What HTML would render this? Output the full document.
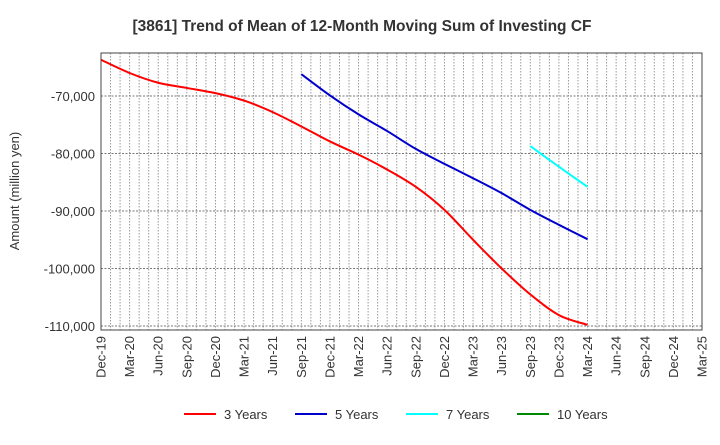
<!DOCTYPE html>
<html><head><meta charset="utf-8"><style>
body{margin:0;background:#fff;font-family:"Liberation Sans",Arial,sans-serif;}
svg text{font-family:"Liberation Sans",Arial,sans-serif;fill:#333;}
</style></head><body>
<svg id="chart" width="720" height="440" viewBox="0 0 720 440" xmlns="http://www.w3.org/2000/svg">
<text x="362" y="31" text-anchor="middle" font-size="15.5" font-weight="bold">[3861]  Trend of Mean of 12-Month Moving Sum of Investing CF</text>
<g id="grid"></g>
<g id="yticks"></g>
<g id="xticks"></g>
<g id="series"></g>
<rect x="101" y="53" width="601" height="277" fill="none" stroke="#444" stroke-width="1"/>
<text transform="translate(19,191) rotate(-90)" text-anchor="middle" font-size="13">Amount (million yen)</text>
<g>
<g><line x1="184" y1="414" x2="216" y2="414" stroke="#f00" stroke-width="2"/><text x="224" y="419" font-size="13">3 Years</text></g>
<g><line x1="295" y1="414" x2="327" y2="414" stroke="#00c" stroke-width="2"/><text x="335" y="419" font-size="13">5 Years</text></g>
<g><line x1="406" y1="414" x2="438" y2="414" stroke="#0ff" stroke-width="2"/><text x="446" y="419" font-size="13">7 Years</text></g>
<g><line x1="517" y1="414" x2="549" y2="414" stroke="#080" stroke-width="2"/><text x="557" y="419" font-size="13">10 Years</text></g>
</g>
</svg>
<script>
const xLabels=["Dec-19","Mar-20","Jun-20","Sep-20","Dec-20","Mar-21","Jun-21","Sep-21","Dec-21","Mar-22","Jun-22","Sep-22","Dec-22","Mar-23","Jun-23","Sep-23","Dec-23","Mar-24","Jun-24","Sep-24","Dec-24","Mar-25"];
const yTicks=[-70000,-80000,-90000,-100000,-110000];
const yTickLabels=["-70,000","-80,000","-90,000","-100,000","-110,000"];
const s3=[-63700,-66000,-67700,-68600,-69500,-70800,-72800,-75300,-77900,-80200,-82800,-85800,-89800,-95000,-100000,-104500,-108100,-109800];
const s5=[-66200,-69900,-73200,-76100,-79200,-81800,-84300,-86900,-89800,-92400,-94900];
const s5Start=7;
const s7=[-78700,-82300,-85800];
const s7Start=15;
const s10=[];
const s10Start=0;
const NS="http://www.w3.org/2000/svg";
const L=101,R=702,T=53,B=330;
function xq(i){return L+i*3*(R-L)/63;}
function xm(m){return L+m*(R-L)/63;}
function y(v){return 96+(-70000-v)/10000*57.5;}
function mk(tag,attrs,parent){const e=document.createElementNS(NS,tag);for(const k in attrs)e.setAttribute(k,attrs[k]);parent.appendChild(e);return e;}
const grid=document.getElementById('grid');
for(let m=1;m<63;m++){const l=mk('line',{x1:xm(m),x2:xm(m),y1:T,y2:B,stroke:'#999','stroke-width':1,'stroke-dasharray':'1.5,1.5'},grid);

}
const yt=document.getElementById('yticks');
yTicks.forEach((v,i)=>{const l=mk('line',{x1:L,x2:R,y1:y(v),y2:y(v),stroke:'#777','stroke-width':1,'stroke-dasharray':'2,1.5'},grid);


const t=mk('text',{x:L-6,y:y(v)+5,'text-anchor':'end','font-size':13},yt);t.textContent=yTickLabels[i];

});
const xt=document.getElementById('xticks');
xLabels.forEach((s,i)=>{const x=xq(i);const t=mk('text',{transform:`translate(${x+4.5},${B+6}) rotate(-90)`,'text-anchor':'end','font-size':13},xt);t.textContent=s;

});
function path(vals,start){if(vals.length<2)return '';const p=vals.map((v,i)=>[xq(start+i),y(v)]);let d=`M${p[0][0]},${p[0][1]}`;
for(let i=0;i<p.length-1;i++){const p0=p[i-1]||p[i],p1=p[i],p2=p[i+1],p3=p[i+2]||p2;
const c1=[p1[0]+(p2[0]-p0[0])/6,p1[1]+(p2[1]-p0[1])/6],c2=[p2[0]-(p3[0]-p1[0])/6,p2[1]-(p3[1]-p1[1])/6];
d+=`C${c1[0]},${c1[1]} ${c2[0]},${c2[1]} ${p2[0]},${p2[1]}`;}return d;}
const sg=document.getElementById('series');
[[s3,0,'#f00','line-3-years'],[s5,s5Start,'#00c','line-5-years'],[s7,s7Start,'#0ff','line-7-years'],[s10,s10Start,'#080','line-10-years']].forEach(([v,st,c,n])=>{
const d=path(v,st);if(!d)return;const p=mk('path',{d:d,fill:'none',stroke:c,'stroke-width':2},sg);

});
</script>
</body></html>
